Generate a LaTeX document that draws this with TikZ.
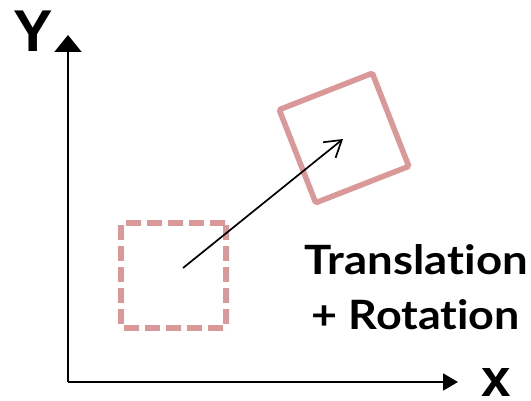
\documentclass[tikz,border=0pt]{standalone}
\usepackage{fontspec}
\setmainfont{Liberation Sans}
\newfontfamily\labfont[Ligatures={NoCommon}]{Lato}
\usetikzlibrary{arrows.meta}
\definecolor{sqcol}{RGB}{219,152,152}
\begin{document}
\begin{tikzpicture}[x=1pt,y=-1pt,
  axis/.style={line width=1.8pt, black},
  sqbox/.style={draw=sqcol, line width=5.5pt, rectangle, inner sep=0pt, outer sep=0pt, rounded corners=1.5pt},
  olddash/.style={dash pattern=on 15pt off 6pt},
  axlabel/.style={inner sep=0pt, anchor=base, font=\bfseries},
  txt/.style={inner sep=0pt, anchor=base, font=\labfont\bfseries}
]
\useasboundingbox (0,0) rectangle (531,401);
% axes
\coordinate (O) at (68,382);
\coordinate (ytip) at (68,35);
\coordinate (xtip) at (458,382);
\draw[axis, -{Triangle[length=17pt,width=27pt]}] (O) -- (ytip);
\draw[axis, -{Triangle[length=15pt,width=17pt]}] (O) -- (xtip);
\node[axlabel, font=\bfseries\fontsize{59}{59}\selectfont] (ylab) at (33.5,52) {Y};
\node[axlabel, font=\bfseries\fontsize{53}{53}\selectfont] (xlab) at (496,396) {x};
% squares
\node[sqbox, olddash, minimum size=105pt] (old) at (173.5,275.5) {};
\node[sqbox, rotate=21.4, minimum size=100pt] (new) at (344,138) {};
% arrow
\coordinate (a0) at (183,268);
\coordinate (a1) at (343,139);
\draw[line width=1.7pt, -{Straight Barb[length=16pt,width=20pt]}] (a0) -- (a1);
% text
\node[txt] (t1) at (416.5,275) {\resizebox{223pt}{30pt}{Translation}};
\node[txt] (t2) at (416,330) {\resizebox{208pt}{30pt}{+ Rotation}};
\end{tikzpicture}
\end{document}
